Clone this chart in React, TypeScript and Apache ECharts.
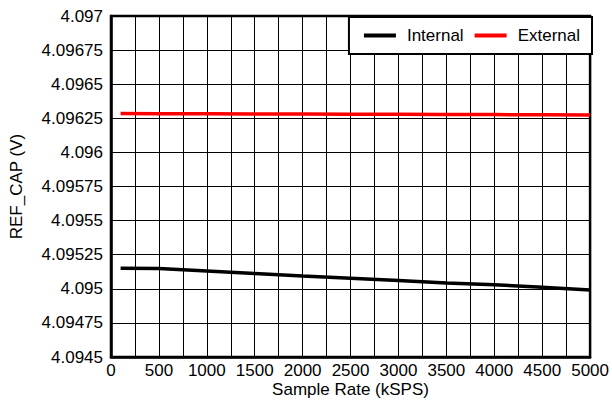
import React, { useEffect, useRef } from "react";
import * as echarts from "echarts";

const sampleRates = [100, 500, 1000, 1500, 2000, 2500, 3000, 3500, 4000, 4500, 5000];
const internalV = [4.09515, 4.095148, 4.09513, 4.095112, 4.095094, 4.095078, 4.09506, 4.095042, 4.09503, 4.095012, 4.094992];
const externalV = [4.096285, 4.096284, 4.096283, 4.096282, 4.096281, 4.09628, 4.096279, 4.096278, 4.096277, 4.096276, 4.096275];
const seriesNames = ["Internal", "External"];
const seriesColors = ["#000000", "#ff0000"];

export default function App() {
  const ref = useRef<HTMLDivElement>(null);
  useEffect(() => {
    if (!ref.current) return;
    const chart = echarts.init(ref.current, undefined, { renderer: "svg" });
    const font = "Liberation Sans, Arial, sans-serif";
    const fs = 17;
    chart.setOption({
      animation: false,
      backgroundColor: "#ffffff",
      grid: {
        left: 111,
        right: 19,
        top: 16,
        bottom: 50,
        show: true,
        borderColor: "#000",
        borderWidth: 2.5,
      },
      legend: {
        right: 20,
        top: 17,
        data: seriesNames,
        backgroundColor: "#fff",
        borderColor: "#000",
        borderWidth: 2,
        borderRadius: 0,
        padding: [10, 12, 10, 15],
        itemGap: 11,
        itemWidth: 32,
        itemHeight: 4,
        textStyle: { fontFamily: font, fontSize: fs, color: "#000", padding: [0, 0, 0, 6] },
        icon: "rect",
      },
      xAxis: {
        type: "value",
        min: 0,
        max: 5000,
        interval: 500,
        name: "Sample Rate (kSPS)",
        nameLocation: "middle",
        nameGap: 24,
        nameMoveOverlap: false,
        nameTextStyle: { fontFamily: font, fontSize: fs, color: "#000", verticalAlign: "top" },
        axisLine: { show: true, lineStyle: { color: "#000", width: 2.5 } },
        axisTick: { show: false },
        axisLabel: {
          fontFamily: font,
          fontSize: fs,
          color: "#000",
          margin: 5,
          formatter: (v: number) => String(Math.round(v)),
        },
        splitLine: { show: true, lineStyle: { color: "#000", width: 1 } },
        minorTick: { show: false, splitNumber: 2 },
        minorSplitLine: { show: true, lineStyle: { color: "#000", width: 1 } },
      },
      yAxis: {
        type: "value",
        min: 4.0945,
        max: 4.097,
        interval: 0.00025,
        name: "REF_CAP (V)",
        nameLocation: "middle",
        nameGap: 86,
        nameTextStyle: { fontFamily: font, fontSize: fs, color: "#000" },
        axisLine: { show: true, lineStyle: { color: "#000", width: 2.5 } },
        axisTick: { show: false },
        axisLabel: {
          fontFamily: font,
          fontSize: fs,
          color: "#000",
          margin: 8,
          formatter: (v: number) => String(parseFloat(v.toFixed(6))),
        },
        splitLine: { show: true, lineStyle: { color: "#000", width: 1 } },
      },
      series: seriesNames.map((name, i) => ({
        name,
        type: "line",
        data: sampleRates.map((x, j) => [x, i === 0 ? internalV[j] : externalV[j]]),
        showSymbol: false,
        symbol: "none",
        smooth: false,
        lineStyle: { color: seriesColors[i], width: 3.5 },
        itemStyle: { color: seriesColors[i] },
      })),
    });
    return () => chart.dispose();
  }, []);
  return <div ref={ref} style={{ width: 612, height: 407, position: "absolute", left: 0, top: 0 }} />;
}
